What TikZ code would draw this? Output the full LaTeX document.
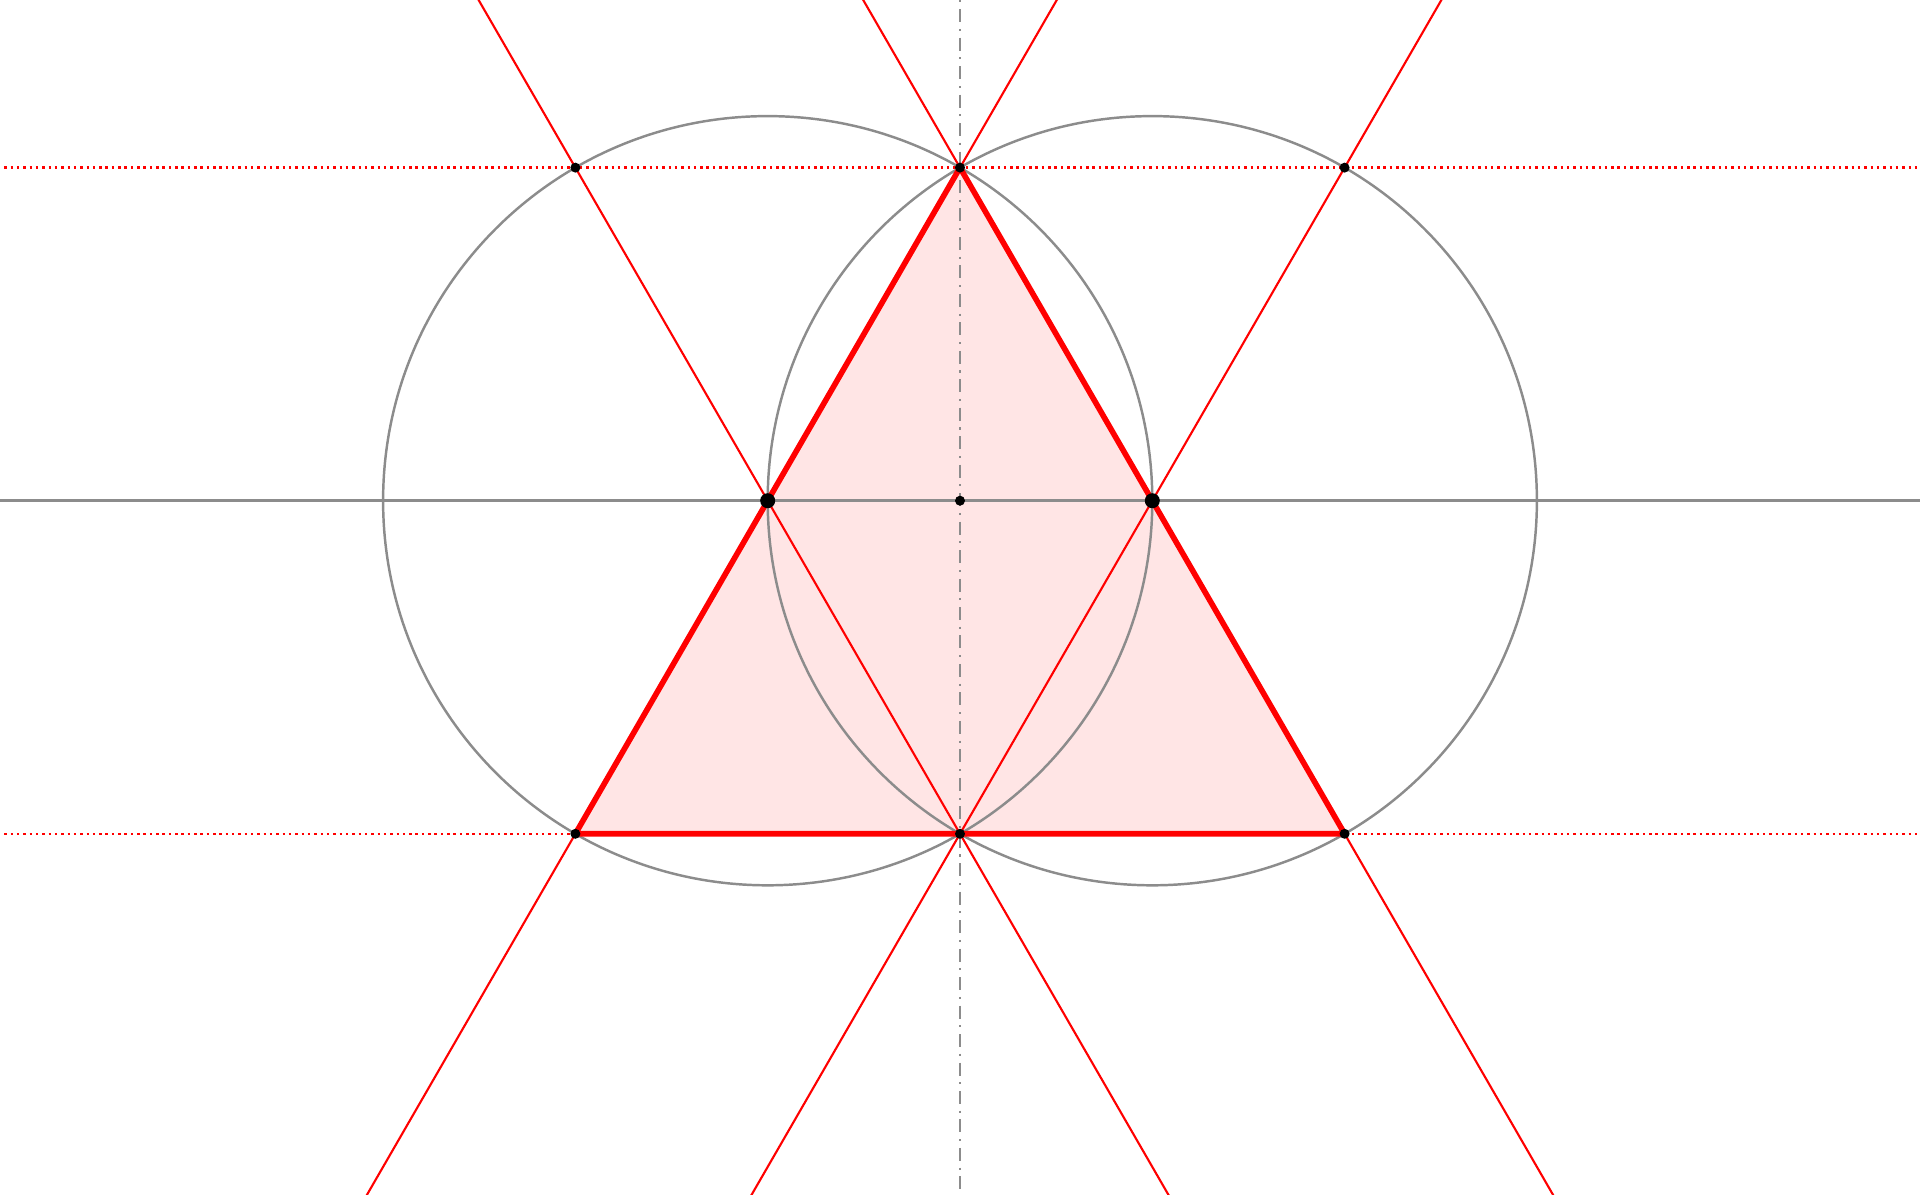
\documentclass[tikz,border=0pt]{standalone}
\usetikzlibrary{calc}
\begin{document}
\begin{tikzpicture}[
  thinred/.style={red, line width=0.6pt},
  thickred/.style={red, line width=1.6pt},
  grayline/.style={black!45, line width=0.7pt},
  dotline/.style={red, line width=0.7pt, dash pattern=on 0.7pt off 1.1pt},
  axisline/.style={black!45, line width=0.8pt, dash pattern=on 3.7pt off 1.9pt on 0.6pt off 1.9pt},
  smalldot/.style={fill=black, circle, inner sep=0pt, minimum size=0.1cm},
  bigdot/.style={fill=black, circle, inner sep=0pt, minimum size=0.15cm}
]
\pgfmathsetmacro{\r}{3.846}
\pgfmathsetmacro{\h}{3.846*0.8660254}
\useasboundingbox (-9.6,-6.933) rectangle (9.6,5.007);
\clip (-9.6,-6.933) rectangle (9.6,5.007);
\coordinate (O) at (0,0);
\coordinate (L) at (-\r/2,0);
\coordinate (R) at (\r/2,0);
\coordinate (T) at (0,\h);
\coordinate (B) at (0,-\h);
\coordinate (TL) at (-\r,\h);
\coordinate (TR) at (\r,\h);
\coordinate (BL) at (-\r,-\h);
\coordinate (BR) at (\r,-\h);
% fill
\fill[red!10] (BL) -- (BR) -- (T) -- cycle;
% circles
\draw[grayline] (L) circle (\r);
\draw[grayline] (R) circle (\r);
% axes
\draw[grayline] (-10,0) -- (10,0);
\draw[axisline] (0,5.2) -- (0,-7.2);
% red construction lines
\draw[thinred] ($(TL)!-3!(B)$) -- ($(B)!-3!(TL)$);
\draw[thinred] ($(T)!-3!(BR)$) -- ($(BR)!-3!(T)$);
\draw[thinred] ($(T)!-3!(BL)$) -- ($(BL)!-3!(T)$);
\draw[thinred] ($(TR)!-3!(B)$) -- ($(B)!-3!(TR)$);
% thick triangle
\draw[thickred, line join=round] (BL) -- (BR) -- (T) -- cycle;
% dotted lines
\draw[dotline] (-10,\h) -- (10,\h);
\draw[dotline] (-10,-\h) -- (10,-\h);
% dots
\foreach \p in {TL,T,TR,BL,B,BR,O} \node[smalldot] at (\p) {};
\node[bigdot] at (L) {};
\node[bigdot] at (R) {};
\end{tikzpicture}
\end{document}
